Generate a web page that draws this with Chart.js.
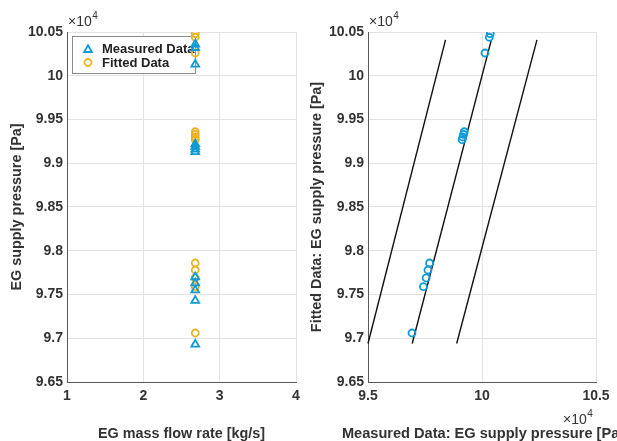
<!DOCTYPE html>
<html><head><meta charset="utf-8">
<script src="https://cdn.jsdelivr.net/npm/chart.js@4.4.1/dist/chart.umd.min.js"></script>
<style>
html,body{margin:0;padding:0;background:#fff;width:617px;height:441px;overflow:hidden}
canvas{position:absolute;top:0}
#c1{left:0}
#c2{left:300px}
</style></head><body>
<canvas id="c1" width="308" height="441"></canvas>
<canvas id="c2" width="317" height="441"></canvas>
<script>
// ---- data (pressures in units of 1e4 Pa) ----
const massFlow = [2.68, 2.68, 2.68, 2.68, 2.68, 2.68, 2.68, 2.68, 2.68, 2.68, 2.68, 2.68];
const measured = [9.693, 9.743, 9.755, 9.763, 9.770, 9.913, 9.916, 9.919, 9.922, 10.013, 10.032, 10.036];
const fitted   = [9.706, 9.759, 9.769, 9.778, 9.786, 9.927, 9.930, 9.933, 9.936, 10.026, 10.044, 10.048];
const lineY    = [9.694, 10.041];
const plus2X   = [9.500, 9.840];
const parityX  = [9.694, 10.041];
const minus2X  = [9.889, 10.241];
const xTicksLeft  = ['1', '2', '3', '4'];
const xTicksRight = ['9.5', '10', '10.5'];
const yTicks = ['9.65', '9.7', '9.75', '9.8', '9.85', '9.9', '9.95', '10', '10.05'];
const seriesLabels = ['Measured Data', 'Fitted Data'];
const xTitleLeft = 'EG mass flow rate [kg/s]';
const xTitleRight = 'Measured Data: EG supply pressure [Pa]';
const yTitleLeft = 'EG supply pressure [Pa]';
const yTitleRight = 'Fitted Data: EG supply pressure [Pa]';

const BLUE = '#0E9AD6';
const GOLD = '#EDB120';
const TXT = '#333333';
const FONT = '"Liberation Sans", Arial, Helvetica, sans-serif';
Chart.defaults.font.family = FONT;
Chart.defaults.color = TXT;

function pts(xs, ys) { return xs.map((x, i) => ({x: x, y: ys[i]})); }

function expLabel(ctx, x, y) {
  ctx.save();
  ctx.fillStyle = TXT;
  ctx.textBaseline = 'middle';
  ctx.textAlign = 'left';
  ctx.font = '14px ' + FONT;
  ctx.fillText('\u00d710', x, y);
  const w = ctx.measureText('\u00d710').width;
  ctx.font = '10px ' + FONT;
  ctx.fillText('4', x + w + 0.5, y - 6);
  ctx.restore();
}

function yScale(title, lblWidth) {
  return {
    type: 'linear', min: 9.65, max: 10.05,
    afterFit: s => { s.width = lblWidth; },
    ticks: { stepSize: 0.05, padding: 4, color: TXT,
      font: { size: 14, weight: 'bold' },
      callback: (v, i) => yTicks[i] },
    grid: { color: '#e3e3e3', lineWidth: 1, drawTicks: false },
    border: { color: '#5a5a5a', width: 1 },
    title: { display: true, text: title, color: TXT,
      font: { size: 14.4, weight: 'bold', lineHeight: 1 }, padding: { top: 10, bottom: 0 } }
  };
}

function xScale(min, max, step, labels, title) {
  return {
    type: 'linear', min: min, max: max,
    afterFit: s => { s.height = 59; },
    ticks: { stepSize: step, padding: 6, color: TXT,
      font: { size: 14, weight: 'bold' },
      callback: (v, i) => labels[i] },
    grid: { color: '#e3e3e3', lineWidth: 1, drawTicks: false },
    border: { color: '#5a5a5a', width: 1 },
    title: { display: !!title, text: title || '', color: TXT,
      font: { size: 14.4, weight: 'bold', lineHeight: 1 }, padding: { top: 0, bottom: 0 } }
  };
}

const legendPlugin = {
  id: 'boxLegend',
  beforeDatasetsDraw(chart) {
    const ctx = chart.ctx;
    ctx.save();
    ctx.fillStyle = '#ffffff';
    ctx.strokeStyle = '#8a8a8a';
    ctx.lineWidth = 1;
    ctx.fillRect(72.5, 36.5, 123, 37);
    ctx.strokeRect(72.5, 36.5, 123, 37);
    ctx.strokeStyle = BLUE; ctx.lineWidth = 1.8;
    ctx.beginPath();
    ctx.moveTo(88, 45.2); ctx.lineTo(91.9, 52); ctx.lineTo(84.1, 52); ctx.closePath();
    ctx.stroke();
    ctx.strokeStyle = GOLD;
    ctx.beginPath(); ctx.arc(88, 62.5, 3.5, 0, Math.PI * 2); ctx.stroke();
    ctx.fillStyle = '#222';
    ctx.font = 'bold 13px ' + FONT;
    ctx.textBaseline = 'middle'; ctx.textAlign = 'left';
    ctx.fillText(seriesLabels[0], 102, 49.5);
    ctx.fillText(seriesLabels[1], 102, 63.5);
    ctx.restore();
  },
  afterDraw(chart) {
    expLabel(chart.ctx, chart.chartArea.left + 1, 22.5);
  }
};

const rightPlugin = {
  id: 'rightExtras',
  afterDraw(chart) {
    const ctx = chart.ctx;
    const a = chart.chartArea;
    expLabel(ctx, a.left + 1, 22.5);
    expLabel(ctx, a.right - 33, 420);
    ctx.save();
    ctx.fillStyle = TXT;
    ctx.font = 'bold 14.6px ' + FONT;
    ctx.textAlign = 'center'; ctx.textBaseline = 'middle';
    ctx.fillText(xTitleRight, (a.left + a.right) / 2 + 1, 434);
    ctx.restore();
  }
};

new Chart(document.getElementById('c1'), {
  type: 'scatter',
  data: { datasets: [
    { label: seriesLabels[0], data: pts(massFlow, measured), pointStyle: 'triangle',
      pointRadius: 4.5, pointBorderWidth: 1.8, borderColor: BLUE, backgroundColor: 'rgba(0,0,0,0)' },
    { label: seriesLabels[1], data: pts(massFlow, fitted), pointStyle: 'circle',
      pointRadius: 3.5, pointBorderWidth: 1.8, borderColor: GOLD, backgroundColor: 'rgba(0,0,0,0)' }
  ]},
  options: {
    responsive: false, animation: false, devicePixelRatio: 1,
    layout: { padding: { top: 32, right: 12, left: 0, bottom: 0 } },
    plugins: { legend: { display: false }, tooltip: { enabled: false } },
    scales: { x: xScale(1, 4, 1, xTicksLeft, xTitleLeft), y: yScale(yTitleLeft, 67) }
  },
  plugins: [legendPlugin]
});

const lineStyle = { type: 'line', showLine: true, borderColor: '#111', borderWidth: 1.4,
  pointRadius: 0, fill: false, clip: false };

new Chart(document.getElementById('c2'), {
  type: 'scatter',
  data: { datasets: [
    { label: 'Fitted vs Measured', data: pts(measured, fitted), pointStyle: 'circle',
      pointRadius: 3.5, pointBorderWidth: 1.8, borderColor: BLUE, backgroundColor: 'rgba(0,0,0,0)' },
    Object.assign({ label: '+2%', data: pts(plus2X, lineY) }, lineStyle),
    Object.assign({ label: 'parity', data: pts(parityX, lineY) }, lineStyle),
    Object.assign({ label: '-2%', data: pts(minus2X, lineY) }, lineStyle)
  ]},
  options: {
    responsive: false, animation: false, devicePixelRatio: 1,
    layout: { padding: { top: 32, right: 21, left: 0, bottom: 0 } },
    plugins: { legend: { display: false }, tooltip: { enabled: false } },
    scales: { x: xScale(9.5, 10.5, 0.5, xTicksRight, null), y: yScale(yTitleRight, 68) }
  },
  plugins: [rightPlugin]
});
</script>
</body></html>
